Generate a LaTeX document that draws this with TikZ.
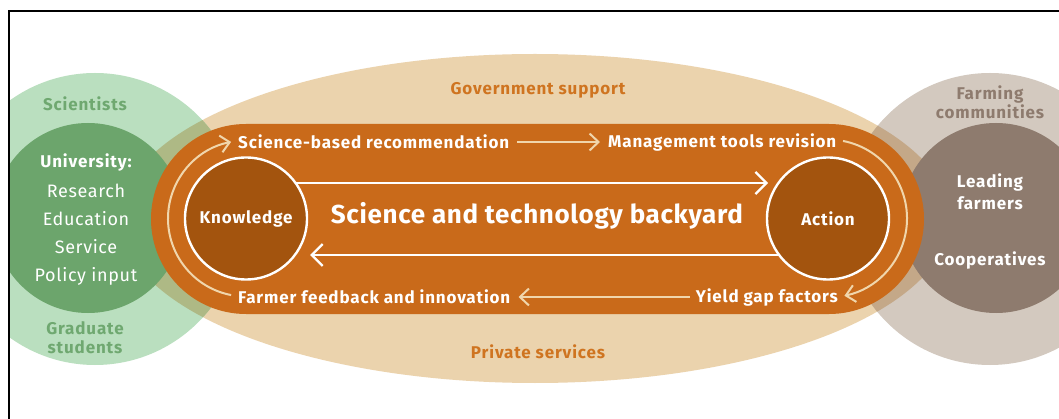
\documentclass[tikz,border=0pt]{standalone}
\usepackage{fontspec}
\setmainfont{Fira Sans}
\newfontfamily\lblfont[LetterSpace=5]{Fira Sans}
\newfontfamily\titlefont[LetterSpace=2.5]{Fira Sans}
\newfontfamily\listfont[LetterSpace=3.5]{Fira Sans}
\usetikzlibrary{arrows.meta}
\definecolor{beigeC}{HTML}{EBD3AD}
\definecolor{lgreen}{HTML}{BADFBF}
\definecolor{dgreen}{HTML}{6CA56C}
\definecolor{olive}{HTML}{AEB985}
\definecolor{lgray}{HTML}{D3C9BF}
\definecolor{tan}{HTML}{C4A888}
\definecolor{taupe}{HTML}{8E7B6E}
\definecolor{orangeC}{HTML}{C96A1A}
\definecolor{brownC}{HTML}{A3540E}
\definecolor{arrowC}{HTML}{F0D6AC}
\definecolor{labOrange}{HTML}{CF7420}
\definecolor{labGreen}{HTML}{6FA870}
\begin{document}
\begin{tikzpicture}[x=1pt,y=1pt,
  lbl/.style={font=\lblfont\fontsize{17}{20}\selectfont\bfseries, text=white, inner sep=1pt},
  sidelbl/.style={font=\lblfont\fontsize{17}{20}\selectfont\bfseries, align=center, inner sep=0pt},
  unilbl/.style={font=\listfont\fontsize{18}{21}\selectfont, text=white, inner sep=0pt},
  hub/.style={circle, fill=brownC, draw=white, line width=2.4pt, minimum size=122pt, inner sep=0pt, text=white, font=\lblfont\fontsize{17}{20}\selectfont\bfseries},
  warrow/.style={draw=white, line width=2.3pt, -{Straight Barb[length=11pt,width=22pt,line width=2.3pt]}},
  barrow/.style={draw=arrowC, line width=2pt, -{Straight Barb[length=9pt,width=17pt,line width=2pt]}},
]
\useasboundingbox (0,0) rectangle (1059,-419);
\begin{scope}
\clip (9,-11) rectangle (1059,-419);
% big ellipse
\fill[beigeC] (535,-218.5) ellipse[x radius=415, y radius=164.5];
% green circles
\fill[lgreen] (95,-219) circle[radius=146];
\begin{scope}
\clip (535,-218.5) ellipse[x radius=415, y radius=164.5];
\fill[olive] (95,-219) circle[radius=146];
\end{scope}
\fill[dgreen] (88,-218) circle[radius=95];
% gray circles
\fill[lgray] (990,-219) circle[radius=146];
\begin{scope}
\clip (535,-218.5) ellipse[x radius=415, y radius=164.5];
\fill[tan] (990,-219) circle[radius=146];
\end{scope}
\fill[taupe] (996,-218) circle[radius=95];
\end{scope}
\draw[line width=1.4pt] (9,-419) -- (9,-11) -- (1059,-11);
% stadium
\node[fill=orangeC, rounded corners=95pt, minimum width=773pt, minimum height=190pt, inner sep=0pt] (S) at (537.5,-219) {};
% hubs
\node[hub] (K) at (246,-218.5) {Knowledge};
\node[hub] (A) at (828,-218.5) {Action};
\node[font=\titlefont\fontsize{26}{30}\selectfont\bfseries, text=white] (T) at (537,-216) {Science and technology backyard};
% main arrows
\draw[warrow] ([shift={(50,35.5)}]K.center) -- ([shift={(-60,35.5)}]A.center);
\draw[warrow] ([shift={(-49,-36.5)}]A.center) -- ([shift={(64,-36.5)}]K.center);
% cycle labels
\node[lbl, anchor=west] (sbr) at (237,-142) {Science-based recommendation};
\node[lbl, anchor=west] (mtr) at (607,-142) {Management tools revision};
\node[lbl, anchor=west] (ffb) at (237,-297) {Farmer feedback and innovation};
\node[lbl, anchor=east] (ygf) at (839,-297) {Yield gap factors};
\draw[barrow] ([xshift=7pt]sbr.east) -- ([xshift=-7pt]mtr.west);
\draw[barrow] ([xshift=-5pt]ygf.west) -- ([xshift=7pt]ffb.east);
\draw[barrow] ([shift={(259:78)}]K.center) arc[start angle=259, end angle=101, radius=78];
\draw[barrow] ([shift={(79:79)}]A.center) arc[start angle=79, end angle=-78, radius=79];
% side labels
\node[sidelbl, text=labGreen] (sci) at (85,-104) {Scientists};
\node[sidelbl, text=labGreen, align=center] (grad) at (85,-337.5) {Graduate\\[-1pt]students};
\node[sidelbl, text=labOrange] (gov) at (538,-90) {Government support};
\node[sidelbl, text=labOrange] (priv) at (538,-352) {Private services};
\node[sidelbl, text=taupe] (farm) at (990,-102) {Farming\\[-1pt]communities};
% university
\node[sidelbl, text=white] (uni) at (86,-162) {University:};
\node[unilbl] (res) at (86,-191) {Research};
\node[unilbl] (edu) at (86,-219) {Education};
\node[unilbl] (ser) at (86,-247) {Service};
\node[unilbl] (pol) at (86,-276) {Policy input};
% farmers
\node[sidelbl, text=white] (lead) at (990,-191.5) {Leading\\[2pt]farmers};
\node[sidelbl, text=white] (coop) at (990,-260) {Cooperatives};
\end{tikzpicture}
\end{document}
